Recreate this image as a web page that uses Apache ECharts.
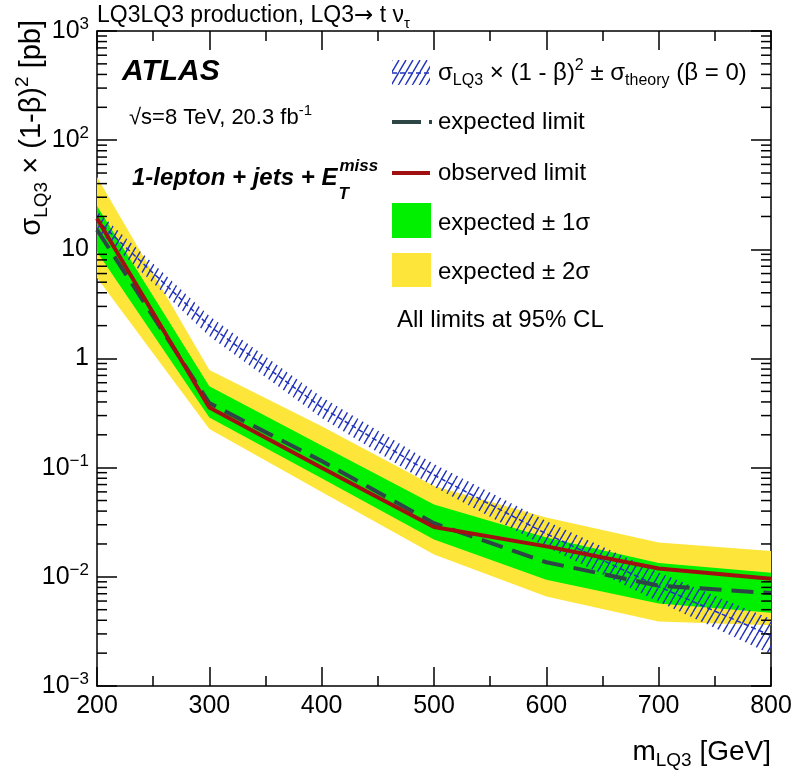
<!DOCTYPE html>
<html><head><meta charset="utf-8">
<script src="https://cdn.jsdelivr.net/npm/echarts@6/dist/echarts.min.js"></script>
<style>html,body{margin:0;padding:0;background:#fff}#c{width:796px;height:772px}</style>
</head><body><div id="c"></div>
<script>
// ---- data ----
const mass      = [200, 300, 400, 500, 600, 700, 800];
const observed  = [19.2, 0.355, 0.100, 0.0286, 0.0190, 0.0119, 0.0096];
const expected  = [15.1, 0.390, 0.115, 0.0310, 0.0136, 0.0083, 0.0071];
const exp1Up    = [24.9, 0.556, 0.160, 0.0460, 0.0229, 0.0134, 0.0109];
const exp1Dn    = [9.5,  0.288, 0.080, 0.0220, 0.0094, 0.0057, 0.0047];
const exp2Up    = [46.0, 0.785, 0.240, 0.0680, 0.0350, 0.0206, 0.0172];
const exp2Dn    = [5.5,  0.226, 0.060, 0.0160, 0.0066, 0.0039, 0.0036];
const theory    = [18.5, 1.99, 0.357, 0.0856, 0.0248, 0.00815, 0.00289];
const theoryUp  = [22.5, 2.45, 0.445, 0.1080, 0.0325, 0.01100, 0.00410];
const theoryDn  = [15.0, 1.60, 0.285, 0.0670, 0.0188, 0.00590, 0.00195];
const xTickLabels = [200, 300, 400, 500, 600, 700, 800];
const yDecades  = [0.001, 0.01, 0.1, 1, 10, 100, 1000];
const minorMult = [2, 3, 4, 5, 6, 7, 8, 9];

const FONT = '"Liberation Sans", Arial, Helvetica, sans-serif';
const BLK = '#000';
const HBLUE = '#2233bb';

function hatchPattern(){
  const w = 7, h = 12, c = document.createElement('canvas');
  c.width = w; c.height = h;
  const g = c.getContext('2d');
  g.strokeStyle = HBLUE; g.lineWidth = 1.4;
  g.beginPath();
  for (let k = -1; k <= 1; k++) { g.moveTo(k * w, h); g.lineTo(k * w + w, 0); }
  g.stroke();
  return {image: c, repeat: 'repeat'};
}
const HATCH = hatchPattern();

function bandSeries(up, dn, fill, z){
  return {
    type: 'custom', coordinateSystem: 'cartesian2d', xAxisIndex: 0, yAxisIndex: 0,
    z: z, silent: true, clip: true,
    data: [[mass[0], up[0]]],
    renderItem: function(params, api){
      const pts = [];
      for (let i = 0; i < mass.length; i++) pts.push(api.coord([mass[i], up[i]]));
      for (let i = mass.length - 1; i >= 0; i--) pts.push(api.coord([mass[i], dn[i]]));
      return {type: 'polygon', shape: {points: pts}, style: {fill: fill, lineWidth: 0}};
    }
  };
}

const minorVals = [];
yDecades.slice(0, -1).forEach(d => minorMult.forEach(m => minorVals.push(+(m * d).toPrecision(3))));

function measure(text, font){
  const c = document.createElement('canvas').getContext('2d');
  c.font = font; return c.measureText(text).width;
}

const axisX = (pos, showLabel) => ({
  type: 'value', min: 200, max: 800, interval: 100, position: pos,
  axisLine: {show: true, onZero: false, lineStyle: {color: BLK, width: 1.5}},
  axisTick: {show: true, inside: true, length: 19, lineStyle: {color: BLK, width: 1.5}},
  minorTick: {show: true, splitNumber: 2, length: 10, lineStyle: {color: BLK, width: 1.5}},
  splitLine: {show: false}, minorSplitLine: {show: false},
  axisLabel: {show: showLabel, fontSize: 25, color: BLK, fontFamily: FONT, margin: 8,
    formatter: v => xTickLabels.includes(v) ? String(v) : ''}
});
const axisY = (pos, showLabel) => ({
  type: 'log', logBase: 10, min: 0.001, max: 1000, splitNumber: 6, position: pos,
  axisLine: {show: true, onZero: false, lineStyle: {color: BLK, width: 1.5}},
  axisTick: {show: true, inside: true, length: 20, lineStyle: {color: BLK, width: 1.5}},
  splitLine: {show: false},
  axisLabel: {show: showLabel, fontSize: 25, color: BLK, fontFamily: FONT, margin: 8,
    formatter: v => {
      const e = Math.round(Math.log10(v));
      if (e === 0) return '1';
      if (e === 1) return '10';
      return '{b|10}{e|' + (e < 0 ? '\u2212' + (-e) : e) + '}';
    },
    rich: {
      b: {fontSize: 25, fontFamily: FONT, color: BLK, lineHeight: 30},
      e: {fontSize: 17, fontFamily: FONT, color: BLK, lineHeight: 14, verticalAlign: 'top'}
    }
  }
});

function rt(size, extra){
  return Object.assign({fontSize: size, fontFamily: FONT, fill: BLK, color: BLK}, extra || {});
}
function richSet(a, s){
  return {
    a: rt(a, {lineHeight: Math.round(a * 1.3)}),
    s: rt(s, {lineHeight: Math.round(s * 0.9), verticalAlign: 'bottom'}),
    p: rt(s, {lineHeight: Math.round(s * 0.9), verticalAlign: 'top'}),
    r: rt(a, {lineHeight: Math.round(a * 1.3), fontFamily: '"DejaVu Sans", sans-serif'})
  };
}
function txt(x, y, text, rich, align, extra){
  return Object.assign({type: 'text', x: x, y: y, z: 100,
    style: {text: text, rich: rich, align: align || 'left', verticalAlign: 'middle',
            textAlign: align || 'left', textVerticalAlign: 'middle'}}, extra || {});
}

const mainFont = 'italic bold 24px ' + FONT;
const mainTxt = '1-lepton + jets + E';
const mainW = measure(mainTxt, mainFont);

const graphics = [
  txt(97, 16, '{a|LQ3LQ3 production, LQ3}{r|\u2192}{a| t \u03bd}{s|\u03c4}', richSet(23, 15)),
  {type: 'text', x: 122, y: 72, z: 100, style: {text: 'ATLAS', font: 'italic bold 30px ' + FONT, fill: BLK, verticalAlign: 'middle', textVerticalAlign: 'middle'}},
  txt(129, 118, '{a|\u221as=8 TeV, 20.3 fb}{p|-1}', richSet(22, 15)),
  {type: 'text', x: 132, y: 178, z: 100, style: {text: mainTxt, font: mainFont, fill: BLK, verticalAlign: 'middle', textVerticalAlign: 'middle'}},
  {type: 'text', x: 132 + mainW + 2, y: 166, z: 100, style: {text: 'miss', font: 'italic bold 17px ' + FONT, fill: BLK, verticalAlign: 'middle', textVerticalAlign: 'middle'}},
  {type: 'text', x: 132 + mainW + 1, y: 194, z: 100, style: {text: 'T', font: 'italic bold 17px ' + FONT, fill: BLK, verticalAlign: 'middle', textVerticalAlign: 'middle'}},
  // legend
  {type: 'rect', z: 100, shape: {x: 392, y: 60, width: 38, height: 25}, style: {fill: HATCH, lineWidth: 0}},
  {type: 'line', z: 101, shape: {x1: 392, y1: 73, x2: 430, y2: 73}, style: {stroke: HBLUE, lineWidth: 1.5, lineDash: [5, 3]}},
  txt(438, 73, '{a|\u03c3}{s|LQ3}{a| \u00d7 (1 - \u03b2)}{p|2}{a| \u00b1 \u03c3}{s|theory}{a| (\u03b2 = 0)}', richSet(24, 16)),
  {type: 'line', z: 100, shape: {x1: 392, y1: 122, x2: 432, y2: 122}, style: {stroke: '#2e4545', lineWidth: 4, lineDash: [29, 8]}},
  txt(438, 122, '{a|expected limit}', richSet(24, 16)),
  {type: 'line', z: 100, shape: {x1: 392, y1: 173, x2: 430, y2: 173}, style: {stroke: '#a01010', lineWidth: 4}},
  txt(438, 173, '{a|observed limit}', richSet(24, 16)),
  {type: 'rect', z: 100, shape: {x: 392, y: 203, width: 39, height: 35}, style: {fill: '#00f000', lineWidth: 0}},
  txt(438, 223, '{a|expected \u00b1 1\u03c3}', richSet(24, 16)),
  {type: 'rect', z: 100, shape: {x: 392, y: 253, width: 39, height: 34}, style: {fill: '#fde53a', lineWidth: 0}},
  txt(438, 272, '{a|expected \u00b1 2\u03c3}', richSet(24, 16)),
  txt(397, 320, '{a|All limits at 95% CL}', richSet(24, 16)),
  // axis titles
  txt(771, 752, '{a|m}{s|LQ3}{a| [GeV]}', richSet(28, 19), 'right'),
  Object.assign(txt(0, 0, '{a|\u03c3}{s|LQ3}{a| \u00d7 (1-\u03b2)}{p|2}{a| [pb]}', richSet(29, 19), 'right'), {x: 32, y: 20, rotation: Math.PI / 2})
];

const chart = echarts.init(document.getElementById('c'), null, {renderer: 'canvas'});
chart.setOption({
  animation: false,
  backgroundColor: '#fff',
  grid: {left: 97, right: 25, top: 31, bottom: 86, containLabel: false},
  xAxis: [axisX('bottom', true), axisX('top', false)],
  yAxis: [axisY('left', true), axisY('right', false)],
  graphic: graphics,
  series: [
    bandSeries(exp2Up, exp2Dn, '#fde53a', 1),
    bandSeries(exp1Up, exp1Dn, '#00f000', 2),
    bandSeries(theoryUp, theoryDn, HATCH, 3),
    {type: 'line', z: 4, silent: true, symbol: 'none', data: mass.map((m, i) => [m, theory[i]]),
      lineStyle: {color: HBLUE, width: 1.5, type: [5, 3]}},
    {type: 'line', z: 5, silent: true, symbol: 'none', data: mass.map((m, i) => [m, expected[i]]),
      lineStyle: {color: '#2e4545', width: 4, type: [22, 10]}},
    {type: 'line', z: 6, silent: true, symbol: 'none', data: mass.map((m, i) => [m, observed[i]]),
      lineStyle: {color: '#a01010', width: 4}},
    {type: 'custom', coordinateSystem: 'cartesian2d', z: 20, silent: true, clip: false,
      data: minorVals.map(v => [200, v]),
      renderItem: function(params, api){
        const v = api.value(1);
        const p = api.coord([200, v]), q = api.coord([800, v]);
        return {type: 'group', children: [
          {type: 'line', shape: {x1: p[0], y1: p[1], x2: p[0] + 10, y2: p[1]}, style: {stroke: BLK, lineWidth: 1.5}},
          {type: 'line', shape: {x1: q[0] - 10, y1: q[1], x2: q[0], y2: q[1]}, style: {stroke: BLK, lineWidth: 1.5}}
        ]};
      }}
  ]
});
</script></body></html>
